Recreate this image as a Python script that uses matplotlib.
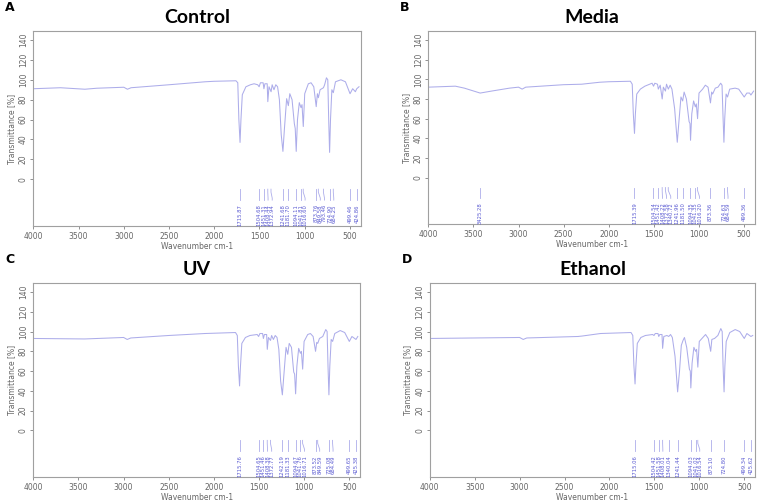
import matplotlib.pyplot as plt

# spectra: wavenumber (cm-1) and transmittance (%)
control_wn = [4000, 3700, 3430, 3300, 3000, 2960, 2920, 2500, 2100, 2000, 1760, 1740, 1728, 1715, 1705, 1690,
              1650, 1600, 1560, 1520, 1504, 1490, 1460, 1451, 1440, 1415, 1408, 1395, 1372, 1360, 1340, 1320,
              1300, 1280, 1260, 1241, 1225, 1200, 1181, 1165, 1140, 1115, 1105, 1094, 1080, 1060, 1041, 1030,
              1016, 1000, 960, 930, 900, 873, 860, 849, 830, 793, 780, 760, 745, 735, 725, 715, 700, 684,
              660, 600, 550, 499, 470, 440, 425, 400]
control_t = [91, 92, 90.5, 91.5, 92.5, 90.5, 92, 95, 98, 98.5, 99, 97, 60, 37, 60, 85,
             93, 95, 96, 95, 93, 97, 97, 91, 96, 96, 78, 93, 88, 95, 90, 95,
             93, 80, 45, 28, 50, 81, 74, 86, 80, 56, 51, 28, 60, 77, 72, 75,
             53, 86, 96, 97, 93, 73, 86, 82, 90, 92, 95, 102, 100, 60, 27, 60, 90, 87,
             98, 100, 98, 86, 91, 88, 91, 93]
control_peaks = [1715.87, 1504.68, 1451.31, 1408.44, 1372.94, 1241.68, 1181.70, 1094.11, 1041.81, 1016.60,
                 873.76, 849.58, 793.46, 724.90, 684.25, 499.46, 424.86]

media_wn = [4000, 3700, 3600, 3425, 3300, 3100, 3000, 2960, 2920, 2500, 2300, 2100, 2000, 1760, 1740, 1728,
            1715, 1705, 1690, 1650, 1600, 1520, 1504, 1490, 1460, 1451, 1430, 1408, 1395, 1372, 1360, 1340,
            1320, 1300, 1270, 1241, 1220, 1200, 1181, 1165, 1140, 1110, 1100, 1094, 1080, 1060, 1041, 1030,
            1016, 1000, 960, 930, 900, 873, 860, 849, 820, 790, 760, 745, 735, 724, 715, 700, 684, 660,
            600, 560, 499, 470, 440, 425, 395]
media_t = [92, 93, 91, 86, 88, 91, 92, 90, 92, 94.5, 95, 97, 97.5, 98, 95, 65,
           45, 65, 85, 90, 93, 96, 93, 96, 95, 90, 94, 80, 92, 88, 95, 90,
           94, 90, 70, 36, 60, 82, 78, 87, 80, 57, 55, 38, 65, 78, 72, 75,
           60, 86, 90, 94, 92, 76, 87, 85, 91, 92, 96, 94, 65, 36, 60, 85, 82, 90,
           91, 90, 82, 86, 86, 84, 88]
media_peaks = [3425.28, 1715.39, 1504.54, 1451.42, 1408.22, 1372.58, 1340.72, 1241.96, 1181.50, 1094.35,
               1041.35, 1016.20, 873.36, 724.63, 684.59, 499.36]

uv_wn = [4000, 3430, 3000, 2960, 2920, 2500, 2100, 1760, 1740, 1728, 1715, 1705, 1690, 1650, 1600, 1520,
         1504, 1490, 1460, 1451, 1440, 1415, 1408, 1395, 1372, 1360, 1340, 1320, 1300, 1280, 1260, 1241,
         1225, 1200, 1181, 1165, 1140, 1115, 1105, 1094, 1080, 1060, 1041, 1030, 1016, 1000, 960, 930,
         900, 873, 860, 849, 830, 793, 760, 745, 735, 725, 715, 700, 684, 660, 600, 550, 499, 470, 440,
         425, 405]
uv_t = [93, 92.5, 94, 92, 93.5, 96, 98, 99, 96, 65, 45, 65, 88, 94, 96, 97,
        95, 98, 98, 93, 97, 97, 82, 94, 91, 96, 92, 96, 94, 82, 50, 36,
        55, 84, 77, 88, 84, 59, 57, 37, 65, 83, 78, 80, 62, 90, 97, 98,
        95, 80, 89, 88, 93, 95, 102, 100, 65, 36, 65, 92, 90, 98, 101, 99, 90, 95, 93,
        92, 95]
uv_peaks = [1715.76, 1504.65, 1451.46, 1408.38, 1372.77, 1242.19, 1181.33, 1094.67, 1041.76, 1016.71,
            873.52, 849.59, 725.08, 684.49, 499.65, 425.38]

ethanol_wn = [4000, 3000, 2960, 2920, 2350, 2300, 2100, 1760, 1740, 1728, 1715, 1705, 1690, 1650, 1600,
              1520, 1504, 1490, 1460, 1451, 1440, 1415, 1408, 1395, 1360, 1340, 1320, 1300, 1270, 1241,
              1220, 1200, 1181, 1165, 1140, 1110, 1100, 1094, 1080, 1060, 1041, 1030, 1016, 1000, 960,
              930, 900, 873, 860, 830, 793, 760, 745, 735, 724, 715, 700, 660, 600, 550, 499, 470, 440,
              425, 405]
ethanol_t = [93, 94, 92, 93.5, 95, 95.5, 98, 99, 96, 66, 47, 66, 88, 94, 96,
             97, 96, 98, 98, 95, 97, 97, 83, 95, 96, 95, 97, 94, 75, 39,
             60, 86, 91, 94, 84, 62, 60, 43, 68, 84, 80, 82, 64, 90, 94,
             97, 93, 80, 92, 93, 96, 103, 100, 65, 39, 65, 90, 99, 102, 100, 93, 98, 96,
             95, 96]
ethanol_peaks = [1715.06, 1504.42, 1451.58, 1408.01, 1340.04, 1241.44, 1094.03, 1041.02, 1016.54, 873.10,
                 724.80, 499.34, 425.62]

panels = [
    ('A', 'Control', control_wn, control_t, control_peaks, [0.044, 0.549, 0.432, 0.389]),
    ('B', 'Media', media_wn, media_t, media_peaks, [0.565, 0.553, 0.431, 0.385]),
    ('C', 'UV', uv_wn, uv_t, uv_peaks, [0.044, 0.048, 0.431, 0.387]),
    ('D', 'Ethanol', ethanol_wn, ethanol_t, ethanol_peaks, [0.567, 0.048, 0.429, 0.387]),
]

line_col = '#adadea'
label_col = '#5a5ad2'
gray = '#666666'

fig = plt.figure(figsize=(7.58, 5.01), dpi=100)

for letter, title, wn, t, peaks, rect in panels:
    ax = fig.add_axes(rect)
    ax.plot(wn, t, color=line_col, lw=0.75)

    # spread the peak labels so they don't sit on top of each other
    gap = 46
    pos = []
    for p in sorted(peaks, reverse=True):
        x = p if not pos else min(p, pos[-1] - gap)
        pos.append(x)
    for p, x in zip(sorted(peaks, reverse=True), pos):
        ax.plot([p, p, x, x], [-10, -13, -19, -21], color=line_col, lw=0.6)
        ax.text(x, -25, '%.2f' % p, rotation=90, ha='center', va='top', fontsize=3.8, color=label_col)

    ax.set_xlim(4000, 380)
    ax.set_ylim(-47, 149)
    ax.set_xticks(range(4000, 499, -500))
    ax.set_yticks(range(0, 141, 20))
    ax.tick_params(labelsize=5.5, colors=gray, length=2, width=0.5, pad=2)
    for lab in ax.get_yticklabels():
        lab.set_rotation(90)
        lab.set_va('center')
    for s in ax.spines.values():
        s.set_color('#a0a0a0')
        s.set_linewidth(0.8)
    ax.set_xlabel('Wavenumber cm-1', fontsize=5.5, color=gray, labelpad=1)
    ax.set_ylabel('Transmittance [%]', fontsize=5.5, color=gray, labelpad=2)

    cx = rect[0] + rect[2] / 2
    fig.text(cx, 0.965 if rect[1] > 0.5 else 0.463, title, ha='center', va='center',
             fontsize=14, fontweight='bold', family='Lato')
    fig.text(rect[0] - 0.037, rect[1] + rect[3] + 0.047, letter, ha='left', va='center',
             fontsize=9, fontweight='bold')

fig.savefig('out.png', dpi=100)
